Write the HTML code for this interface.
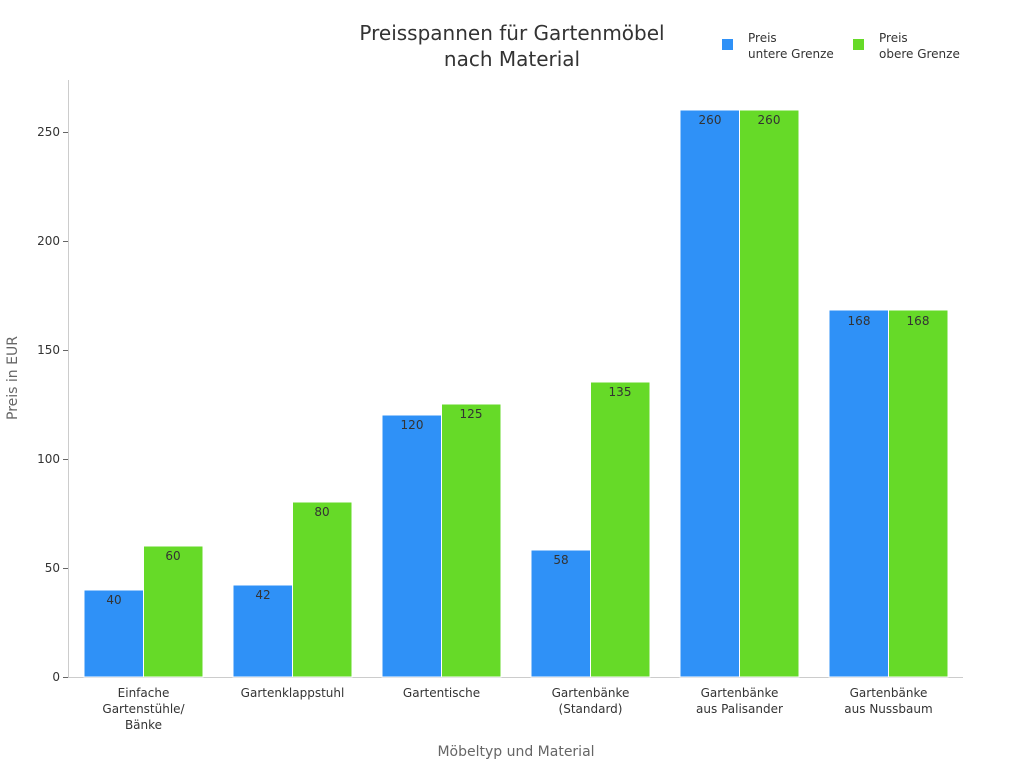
<!DOCTYPE html>
<html><head><meta charset="utf-8"><style>
body{margin:0;background:#fff}
svg{font-family:"DejaVu Sans","Liberation Sans",sans-serif}
</style></head><body>
<svg width="1024" height="768" viewBox="0 0 1024 768" xmlns="http://www.w3.org/2000/svg">
<rect width="1024" height="768" fill="#fff"/>
<text x="512" y="40" font-size="20" fill="#333" text-anchor="middle">Preisspannen für Gartenmöbel</text>
<text x="512" y="66" font-size="20" fill="#333" text-anchor="middle">nach Material</text>
<rect x="722" y="39" width="11" height="11" fill="#2f91f7"/>
<text x="748" y="42" font-size="12" fill="#333">Preis</text>
<text x="748" y="58" font-size="12" fill="#333">untere Grenze</text>
<rect x="853" y="39" width="11" height="11" fill="#66da28"/>
<text x="879" y="42" font-size="12" fill="#333">Preis</text>
<text x="879" y="58" font-size="12" fill="#333">obere Grenze</text>
<line x1="68.5" y1="80" x2="68.5" y2="677" stroke="#ccc"/>
<line x1="68" y1="677.5" x2="963" y2="677.5" stroke="#ccc"/>
<g font-size="12" fill="#333" text-anchor="end">
<line x1="63" y1="677.5" x2="68" y2="677.5" stroke="#666"/><text x="60" y="681">0</text>
<line x1="63" y1="568.5" x2="68" y2="568.5" stroke="#666"/><text x="60" y="572">50</text>
<line x1="63" y1="459.5" x2="68" y2="459.5" stroke="#666"/><text x="60" y="463">100</text>
<line x1="63" y1="350.5" x2="68" y2="350.5" stroke="#666"/><text x="60" y="354">150</text>
<line x1="63" y1="241.5" x2="68" y2="241.5" stroke="#666"/><text x="60" y="245">200</text>
<line x1="63" y1="132.5" x2="68" y2="132.5" stroke="#666"/><text x="60" y="136">250</text>
</g>
<text transform="translate(17,378) rotate(-90)" font-size="14" fill="#666" text-anchor="middle">Preis in EUR</text>
<g stroke="#fff" stroke-width="1">
<rect x="84" y="590" width="59.5" height="87" fill="#2f91f7"/>
<rect x="143.5" y="546" width="59.5" height="131" fill="#66da28"/>
<rect x="233" y="585" width="59.5" height="92" fill="#2f91f7"/>
<rect x="292.5" y="502" width="59.5" height="175" fill="#66da28"/>
<rect x="382" y="415" width="59.5" height="262" fill="#2f91f7"/>
<rect x="441.5" y="404" width="59.5" height="273" fill="#66da28"/>
<rect x="531" y="550" width="59.5" height="127" fill="#2f91f7"/>
<rect x="590.5" y="382" width="59.5" height="295" fill="#66da28"/>
<rect x="680" y="110" width="59.5" height="567" fill="#2f91f7"/>
<rect x="739.5" y="110" width="59.5" height="567" fill="#66da28"/>
<rect x="829" y="310" width="59.5" height="367" fill="#2f91f7"/>
<rect x="888.5" y="310" width="59.5" height="367" fill="#66da28"/>
</g>
<g font-size="12" fill="#333" text-anchor="middle">
<text x="114" y="604">40</text><text x="173" y="560">60</text>
<text x="263" y="599">42</text><text x="322" y="516">80</text>
<text x="412" y="429">120</text><text x="471" y="418">125</text>
<text x="561" y="564">58</text><text x="620" y="396">135</text>
<text x="710" y="124">260</text><text x="769" y="124">260</text>
<text x="859" y="325">168</text><text x="918" y="325">168</text>
</g>
<g font-size="12" fill="#333" text-anchor="middle">
<text x="143.5" y="697">Einfache</text><text x="143.5" y="713">Gartenstühle/</text><text x="143.5" y="729">Bänke</text>
<text x="292.5" y="697">Gartenklappstuhl</text>
<text x="441.5" y="697">Gartentische</text>
<text x="590.5" y="697">Gartenbänke</text><text x="590.5" y="713">(Standard)</text>
<text x="739.5" y="697">Gartenbänke</text><text x="739.5" y="713">aus Palisander</text>
<text x="888.5" y="697">Gartenbänke</text><text x="888.5" y="713">aus Nussbaum</text>
</g>
<text x="516" y="756" font-size="14" fill="#666" text-anchor="middle">Möbeltyp und Material</text>
</svg>
</body></html>
